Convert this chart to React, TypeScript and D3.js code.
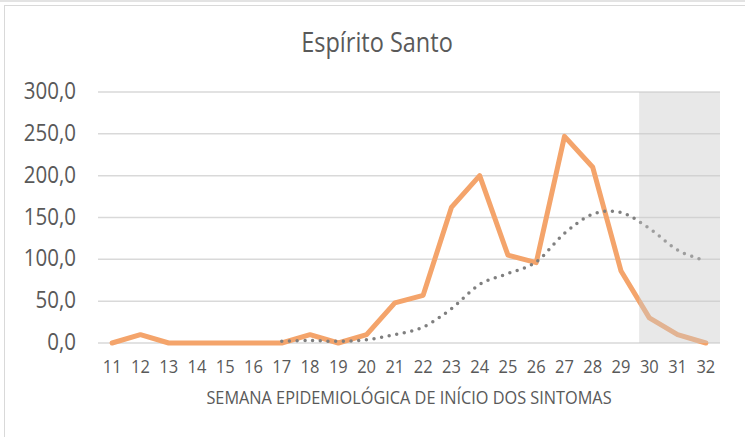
import { useEffect, useRef } from 'react'
import * as d3 from 'd3'

// semanas epidemiológicas
const semanas = ['11', '12', '13', '14', '15', '16', '17', '18', '19', '20', '21', '22', '23', '24', '25', '26', '27', '28', '29', '30', '31', '32']
// casos por semana (linha laranja)
const casos = [0, 10, 0, 0, 0, 0, 0, 10, 0, 10, 48, 57, 162, 200, 105, 96, 247, 210, 86, 30, 10, 0]
// média móvel (linha pontilhada), a partir da semana 17
const semanasMedia = ['17', '18', '19', '20', '21', '22', '23', '24', '25', '26', '27', '28', '29', '30', '31', '32']
const media = [2, 3, 2, 4, 10, 19, 41, 70, 83, 97, 131, 154, 156, 137, 111, 98]
const yTicks = [0, 50, 100, 150, 200, 250, 300]

const W = 745
const H = 437
const margins = { top: 92, right: 25, bottom: 94, left: 98 }
const FONT = "'Open Sans', sans-serif"
const STRETCH = 1.15

export default function App() {
  const ref = useRef<SVGSVGElement>(null)

  useEffect(() => {
    if (!ref.current) return
    const svg = d3.select(ref.current)
    svg.selectAll('*').remove()

    const x0 = margins.left
    const x1 = W - margins.right
    const y0 = H - margins.bottom
    const y1 = margins.top

    const x = d3.scaleBand<string>().domain(semanas).range([x0, x1])
    const cx = (s: string) => (x(s) ?? 0) + x.bandwidth() / 2
    const y = d3.scaleLinear().domain([0, 300]).range([y0, y1])

    // frame
    svg.append('rect').attr('width', W).attr('height', H).attr('fill', '#fff')
    svg.append('line').attr('x1', 0).attr('x2', W).attr('y1', 1).attr('y2', 1).attr('stroke', '#e3e3e3').attr('stroke-width', 2)
    svg
      .append('rect')
      .attr('x', 4.5)
      .attr('y', 5.5)
      .attr('width', W + 10)
      .attr('height', H + 10)
      .attr('fill', 'none')
      .attr('stroke', '#d9d9d9')

    const text = (tx: number, ty: number, s: string, size: number, anchor: string) =>
      svg
        .append('text')
        .attr('transform', `translate(${tx},${ty}) scale(1,${STRETCH})`)
        .attr('text-anchor', anchor)
        .style('font-family', FONT)
        .style('font-size', `${size}px`)
        .attr('fill', '#595959')
        .text(s)

    // title
    text((x0 + x1) / 2 - 32, 52, 'Espírito Santo', 23.5, 'middle')

    // gridlines
    svg
      .append('g')
      .selectAll('line')
      .data(yTicks)
      .enter()
      .append('line')
      .attr('x1', x0)
      .attr('x2', x1)
      .attr('y1', (d) => y(d))
      .attr('y2', (d) => y(d))
      .attr('stroke', '#d9d9d9')
      .attr('stroke-width', 1.5)

    // y labels
    yTicks.forEach((t) => text(76, y(t) + 7, d3.format('.1f')(t).replace('.', ','), 20.5, 'end'))

    // x labels
    semanas.forEach((s) => text(cx(s), 373, s, 16.5, 'middle'))

    // axis title
    text((x0 + x1) / 2, 404, 'SEMANA EPIDEMIOLÓGICA DE INÍCIO DOS SINTOMAS', 16.3, 'middle')

    // orange line
    const line = d3
      .line<number>()
      .x((_, i) => cx(semanas[i]))
      .y((d) => y(d))
    svg
      .append('path')
      .datum(casos)
      .attr('d', line)
      .attr('fill', 'none')
      .attr('stroke', '#f4a46b')
      .attr('stroke-width', 5)
      .attr('stroke-linejoin', 'round')
      .attr('stroke-linecap', 'round')

    // dotted moving average
    const lineMedia = d3
      .line<number>()
      .x((_, i) => cx(semanasMedia[i]))
      .y((d) => y(d))
      .curve(d3.curveCardinal.tension(0))
    svg
      .append('path')
      .datum(media)
      .attr('d', lineMedia)
      .attr('fill', 'none')
      .attr('stroke', '#7f7f7f')
      .attr('stroke-width', 3.5)
      .attr('stroke-dasharray', '0 7.7')
      .attr('stroke-linecap', 'round')

    // shaded region (incomplete weeks)
    const shadeStart = cx('29') + x.bandwidth() * 0.64
    svg
      .append('rect')
      .attr('x', shadeStart)
      .attr('y', y1)
      .attr('width', x1 - shadeStart)
      .attr('height', y0 - y1)
      .attr('fill', '#c8c8c8')
      .attr('opacity', 0.42)
  }, [])

  return (
    <div style={{ position: 'absolute', left: 0, top: 0 }}>
      <svg ref={ref} width={W} height={H} style={{ display: 'block' }} />
    </div>
  )
}
